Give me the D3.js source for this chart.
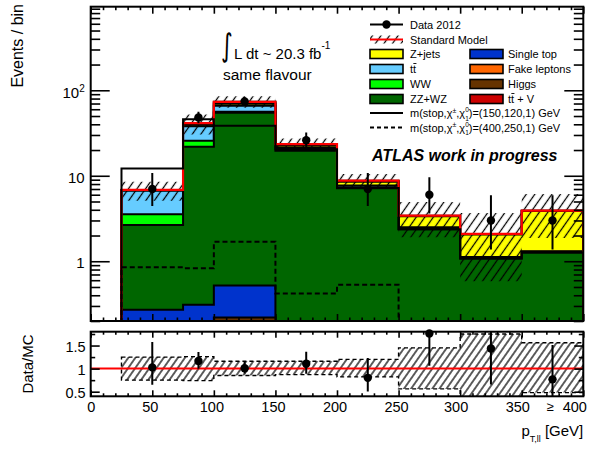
<!DOCTYPE html>
<html>
<head>
<meta charset="utf-8">
<script src="https://cdn.jsdelivr.net/npm/d3@7"></script>
<style>
  html, body { margin: 0; padding: 0; background: #fff; }
  svg text { font-family: "Liberation Sans", Arial, Helvetica, sans-serif; fill: #000; }
</style>
</head>
<body>
<svg id="chart" width="595" height="449"></svg>
<script>
// ---- binning (GeV) ----
const binEdges   = [25, 75, 100, 150, 200, 250, 300, 350, 400];
const binCenters = [50, 87.5, 125, 175, 225, 275, 325, 375];

// ---- background expectation per bin (events), bottom of stack first ----
const higgs     = [0.02, 0.03, 0.22, 0.08, 0.03, 0.01, 0.01, 0.01];
const singleTop = [0.25, 0.28, 0.30, 0.10, 0.05, 0.03, 0.02, 0.02];
const zzwz      = [2.39, 21.59, 53.98, 19.42, 7.06, 2.33, 1.05, 1.24];
const ww        = [0.89, 3.80, 1.60, 0.50, 0.20, 0.05, 0.02, 0.02];
const ttbar     = [3.14, 12.30, 9.90, 1.00, 0.35, 0.08, 0.02, 0.02];
const zjets     = [0.07, 1.60, 3.50, 1.40, 0.80, 0.85, 0.93, 2.56];
const fakes     = [0.03, 0.80, 1.80, 0.50, 0.14, 0.03, 0.02, 0.02];
const ttV       = [0.03, 0.80, 2.00, 0.50, 0.12, 0.03, 0.02, 0.02];

// ---- relative systematic band on the SM total ----
const bandUp   = [1.25, 1.26, 1.16, 1.16, 1.20, 1.45, 1.75, 1.56];
const bandDown = [0.75, 0.74, 0.85, 0.87, 0.82, 0.56, 0.28, 0.48];

// ---- signal benchmarks ----
const signalA = [12.2, 45.8, 38.5, 20.4, 7.2, 2.37, 1.08, 1.27];   // (150,120,1)
const signalB = [0.85, 0.83, 1.69, 0.42, 0.53, 0, 0, 0];            // (400,250,1)

// ---- observed data with 68% Poisson interval ----
const dataCounts = [7, 48, 74, 26, 7, 6, 3, 3];
const dataLow    = [4.42, 41.1, 65.4, 20.9, 4.42, 3.62, 1.37, 1.37];
const dataHigh   = [10.77, 56.0, 83.7, 32.1, 10.77, 9.58, 5.92, 5.92];

// ---- tick labels ----
const mainYTicks  = [1, 10, 100];
const ratioYTicks = [0.5, 1, 1.5];
const ratioXTicks = [0, 50, 100, 150, 200, 250, 300, 350, 400];

const layerKeys   = ["higgs", "singleTop", "zzwz", "ww", "ttbar", "zjets", "fakes", "ttV"];
const layerValues = { higgs, singleTop, zzwz, ww, ttbar, zjets, fakes, ttV };
const layerColors = { higgs: "#663300", singleTop: "#0033cc", zzwz: "#006600", ww: "#00ff00",
                      ttbar: "#66ccff", zjets: "#ffff00", fakes: "#ff6600", ttV: "#cc0000" };

// ---- geometry ----
const L = 90.7, R = 583.3;
const mainTop = 6.7, mainBot = 321;
const ratTop = 331.7, ratBot = 396.3;

const svg = d3.select("#chart");
const x  = d3.scaleLinear().domain([0, 400]).range([L, R]);
const y  = d3.scaleLog().domain([0.2, 950]).range([mainBot, mainTop]);
const yr = d3.scaleLinear().domain([0.4, 1.8]).range([ratBot, ratTop]);
const yv = v => y(Math.max(v, 0.2));

// ---- defs: clip regions and hatch fills ----
const defs = svg.append("defs");
defs.append("clipPath").attr("id", "clipMain")
  .append("rect").attr("x", L).attr("y", mainTop).attr("width", R - L).attr("height", mainBot - mainTop);
defs.append("clipPath").attr("id", "clipRatio")
  .append("rect").attr("x", L).attr("y", ratTop).attr("width", R - L).attr("height", ratBot - ratTop);
function hatch(id, spacing) {
  const p = defs.append("pattern").attr("id", id).attr("patternUnits", "userSpaceOnUse")
    .attr("width", spacing).attr("height", spacing).attr("patternTransform", "rotate(35)");
  p.append("line").attr("x1", spacing / 2).attr("x2", spacing / 2).attr("y1", 0).attr("y2", spacing)
    .attr("stroke", "#000").attr("stroke-width", 1.25);
}
hatch("hatchMain", 7);
hatch("hatchRatio", 5.8);

// per-bin step points (last value repeated at the right edge)
const stepRows = vals => binEdges.map((e, i) => ({ e, v: vals[Math.min(i, vals.length - 1)] }));

// ---- stacked backgrounds ----
const table = binCenters.map((c, i) => {
  const row = { c };
  layerKeys.forEach(k => row[k] = layerValues[k][i]);
  return row;
});
const series = d3.stack().keys(layerKeys)(table);
const totals = table.map((r, i) => series[series.length - 1][i][1]);

const gMain = svg.append("g").attr("clip-path", "url(#clipMain)");
const stackArea = d3.area().curve(d3.curveStepAfter)
  .x(d => x(d.e)).y0(mainBot + 2).y1(d => yv(d.v));

series.slice().reverse().forEach(s => {
  const tops = s.map(d => d[1]);
  gMain.append("path")
    .attr("d", stackArea(stepRows(tops)))
    .attr("fill", layerColors[s.key])
    .attr("stroke", "#000").attr("stroke-width", 2);
});

// systematic band on the total
const bandArea = d3.area().curve(d3.curveStepAfter)
  .x(d => x(d.e)).y0(d => yv(d.lo)).y1(d => yv(d.hi));
const bandRows = binEdges.map((e, i) => {
  const j = Math.min(i, totals.length - 1);
  return { e, lo: totals[j] * bandDown[j], hi: totals[j] * bandUp[j] };
});
gMain.append("path").attr("d", bandArea(bandRows)).attr("fill", "url(#hatchMain)");

// step outline helper
const stepLine = d3.line().curve(d3.curveStepAfter).x(d => x(d.e)).y(d => d.y);
function outline(vals, yf, base) {
  const rows = stepRows(vals).map(d => ({ e: d.e, y: yf(d.v) }));
  return stepLine([{ e: binEdges[0], y: base }, ...rows, { e: binEdges[binEdges.length - 1], y: base }]);
}

// SM total
gMain.append("path").attr("d", outline(totals, yv, mainBot + 2))
  .attr("fill", "none").attr("stroke", "#ff0000").attr("stroke-width", 2.2);

// signal benchmarks
gMain.append("path").attr("d", outline(signalA, yv, mainBot + 2))
  .attr("fill", "none").attr("stroke", "#000").attr("stroke-width", 2);
gMain.append("path").attr("d", outline(signalB, yv, mainBot + 2))
  .attr("fill", "none").attr("stroke", "#000").attr("stroke-width", 2).attr("stroke-dasharray", "5,3");

// data
const gData = svg.append("g").attr("clip-path", "url(#clipMain)");
binCenters.forEach((c, i) => {
  gData.append("line").attr("x1", x(c)).attr("x2", x(c))
    .attr("y1", yv(dataLow[i])).attr("y2", yv(dataHigh[i]))
    .attr("stroke", "#000").attr("stroke-width", 2);
  gData.append("circle").attr("cx", x(c)).attr("cy", yv(dataCounts[i])).attr("r", 4.2).attr("fill", "#000");
});

// ---- main frame and axes ----
svg.append("rect").attr("x", L).attr("y", mainTop).attr("width", R - L).attr("height", mainBot - mainTop)
  .attr("fill", "none").attr("stroke", "#000").attr("stroke-width", 2);

const minorLog = [];
[0.1, 1, 10, 100].forEach(d => { for (let k = 2; k <= 9; k++) { const v = d * k; if (v >= 0.2 && v <= 950) minorLog.push(v); } });
const xMajor = d3.range(0, 401, 50), xMinor = d3.range(0, 401, 10).filter(v => v % 50 !== 0);

function styleAxis(g) { g.select(".domain").remove(); g.selectAll("line").attr("stroke", "#000").attr("stroke-width", 1.6); }

svg.append("g").attr("transform", `translate(${L},0)`)
  .call(d3.axisLeft(y).tickValues(minorLog).tickSize(-9.5).tickFormat("")).call(styleAxis);
svg.append("g").attr("transform", `translate(${R},0)`)
  .call(d3.axisRight(y).tickValues(minorLog).tickSize(-9.5).tickFormat("")).call(styleAxis);
svg.append("g").attr("transform", `translate(${R},0)`)
  .call(d3.axisRight(y).tickValues(mainYTicks).tickSize(-19).tickFormat("")).call(styleAxis);
const yAx = svg.append("g").attr("transform", `translate(${L},0)`)
  .call(d3.axisLeft(y).tickValues(mainYTicks).tickSize(-19).tickPadding(6).tickFormat(v => v === 100 ? "10" : String(v)))
  .call(styleAxis);
yAx.selectAll("text").attr("font-size", 15).attr("dy", "0.45em")
  .style("font-family", '"Liberation Sans", Arial, sans-serif');
yAx.selectAll("text").filter(v => v === 100)
  .append("tspan").attr("font-size", 10).attr("dy", "-0.55em").text("2");

[[mainBot, d3.axisBottom], [mainTop, d3.axisTop]].forEach(([yy, ax]) => {
  svg.append("g").attr("transform", `translate(0,${yy})`)
    .call(ax(x).tickValues(xMajor).tickSize(-7).tickFormat("")).call(styleAxis);
  svg.append("g").attr("transform", `translate(0,${yy})`)
    .call(ax(x).tickValues(xMinor).tickSize(-3.5).tickFormat("")).call(styleAxis);
});

// ---- ratio panel ----
const gRatio = svg.append("g").attr("clip-path", "url(#clipRatio)");
const rBand = d3.area().curve(d3.curveStepAfter).x(d => x(d.e)).y0(d => yr(d.lo)).y1(d => yr(d.hi));
const rRows = binEdges.map((e, i) => { const j = Math.min(i, bandUp.length - 1); return { e, lo: bandDown[j], hi: bandUp[j] }; });
gRatio.append("path").attr("d", rBand(rRows)).attr("fill", "url(#hatchRatio)")
  .attr("stroke", "#000").attr("stroke-width", 1.4).attr("stroke-dasharray", "4,3");
gRatio.append("line").attr("x1", L).attr("x2", R).attr("y1", yr(1)).attr("y2", yr(1))
  .attr("stroke", "#ff0000").attr("stroke-width", 2);
binCenters.forEach((c, i) => {
  const t = totals[i];
  gRatio.append("line").attr("x1", x(c)).attr("x2", x(c))
    .attr("y1", yr(dataLow[i] / t)).attr("y2", yr(dataHigh[i] / t))
    .attr("stroke", "#000").attr("stroke-width", 2);
});
binCenters.forEach((c, i) => {
  svg.append("circle").attr("cx", x(c)).attr("cy", yr(dataCounts[i] / totals[i])).attr("r", 4.2).attr("fill", "#000");
});

svg.append("rect").attr("x", L).attr("y", ratTop).attr("width", R - L).attr("height", ratBot - ratTop)
  .attr("fill", "none").attr("stroke", "#000").attr("stroke-width", 2);

const rMinor = [0.75, 1.25, 1.75];
svg.append("g").attr("transform", `translate(${L},0)`)
  .call(d3.axisLeft(yr).tickValues(rMinor).tickSize(-4.5).tickFormat("")).call(styleAxis);
svg.append("g").attr("transform", `translate(${R},0)`)
  .call(d3.axisRight(yr).tickValues(rMinor).tickSize(-4.5).tickFormat("")).call(styleAxis);
svg.append("g").attr("transform", `translate(${R},0)`)
  .call(d3.axisRight(yr).tickValues(ratioYTicks).tickSize(-9).tickFormat("")).call(styleAxis);
const ryAx = svg.append("g").attr("transform", `translate(${L},0)`)
  .call(d3.axisLeft(yr).tickValues(ratioYTicks).tickSize(-9).tickPadding(5).tickFormat(v => String(v)))
  .call(styleAxis);
ryAx.selectAll("text").attr("font-size", 14.5).attr("dy", "0.4em")
  .style("font-family", '"Liberation Sans", Arial, sans-serif');

svg.append("g").attr("transform", `translate(0,${ratTop})`)
  .call(d3.axisTop(x).tickValues(xMajor).tickSize(-6).tickFormat("")).call(styleAxis);
svg.append("g").attr("transform", `translate(0,${ratTop})`)
  .call(d3.axisTop(x).tickValues(xMinor).tickSize(-3).tickFormat("")).call(styleAxis);
svg.append("g").attr("transform", `translate(0,${ratBot})`)
  .call(d3.axisBottom(x).tickValues(xMinor).tickSize(-3).tickFormat("")).call(styleAxis);
const rxAx = svg.append("g").attr("transform", `translate(0,${ratBot})`)
  .call(d3.axisBottom(x).tickValues(ratioXTicks).tickSize(-6).tickPadding(5).tickFormat(v => String(v)))
  .call(styleAxis);
rxAx.selectAll("text").attr("font-size", 14.5)
  .style("font-family", '"Liberation Sans", Arial, sans-serif')
  .attr("x", v => v === 0 ? 0 : (v === 400 ? -9 : (v >= 300 ? -4.5 : -2.5)));
svg.append("text").attr("x", 550).attr("y", 411).attr("text-anchor", "middle").attr("font-size", 13).text("≥");

// ---- axis titles ----
svg.append("text").attr("transform", "translate(23,4) rotate(-90)").attr("text-anchor", "end")
  .attr("font-size", 16).text("Events / bin");
svg.append("text").attr("transform", `translate(33,${(ratTop + ratBot) / 2}) rotate(-90)`).attr("text-anchor", "middle")
  .attr("font-size", 15).text("Data/MC");
const xt = svg.append("text").attr("x", R).attr("y", 436).attr("text-anchor", "end").attr("font-size", 15);
xt.append("tspan").text("p");
xt.append("tspan").attr("font-size", 9).attr("dy", 6).text("T,ll");
xt.append("tspan").attr("dy", -6).text(" [GeV]");

// ---- annotations ----
svg.append("text").attr("x", 221).attr("y", 56).attr("font-size", 30)
  .style("font-family", '"DejaVu Sans", sans-serif').attr("transform", "translate(221,56) scale(0.75,1.05) translate(-221,-56)")
  .text("∫");
const lum = svg.append("text").attr("x", 234).attr("y", 59).attr("font-size", 15);
lum.append("tspan").text("L dt ~ 20.3 fb");
lum.append("tspan").attr("font-size", 10).attr("dy", -10).text("-1");
svg.append("text").attr("x", 223).attr("y", 80).attr("font-size", 15.5).text("same flavour");
svg.append("text").attr("x", 372).attr("y", 161).attr("font-size", 16)
  .attr("font-weight", "bold").attr("font-style", "italic").text("ATLAS work in progress");

// ---- legend ----
const lg = svg.append("g");
const lx = 370, lw = 33, ltx = 410, rx = 470, rtx = 508;
function legText(xx, cy, txt) {
  return lg.append("text").attr("x", xx).attr("y", cy + 4).attr("font-size", 11).text(txt);
}
function ttbarBar(textSel) {
  const node = textSel.node();
  const sx = node.getStartPositionOfChar(1).x, ex = node.getEndPositionOfChar(1).x;
  const by = +textSel.attr("y") - 9.5;
  lg.append("line").attr("x1", sx + 0.3).attr("x2", ex + 0.3).attr("y1", by).attr("y2", by)
    .attr("stroke", "#000").attr("stroke-width", 0.9);
}
// data entry
lg.append("line").attr("x1", lx).attr("x2", lx + lw).attr("y1", 24.5).attr("y2", 24.5).attr("stroke", "#000").attr("stroke-width", 2);
lg.append("circle").attr("cx", lx + lw / 2).attr("cy", 24.5).attr("r", 4.2).attr("fill", "#000");
legText(ltx, 24.5, "Data 2012");
// SM entry
lg.append("rect").attr("x", lx).attr("y", 35.5).attr("width", lw).attr("height", 8).attr("fill", "url(#hatchMain)");
lg.append("line").attr("x1", lx).attr("x2", lx + lw).attr("y1", 39.5).attr("y2", 39.5).attr("stroke", "#ff0000").attr("stroke-width", 2);
legText(ltx, 39.5, "Standard Model");

const leftEntries  = [["zjets", "Z+jets", 54], ["ttbar", "tt", 69], ["ww", "WW", 84], ["zzwz", "ZZ+WZ", 99]];
const rightEntries = [["singleTop", "Single top", 54], ["fakes", "Fake leptons", 69], ["higgs", "Higgs", 84], ["ttV", "tt + V", 99]];
function box(xx, cy, key) {
  lg.append("rect").attr("x", xx).attr("y", cy - 4.5).attr("width", lw).attr("height", 9)
    .attr("fill", layerColors[key]).attr("stroke", "#000").attr("stroke-width", 1.6);
}
leftEntries.forEach(([k, t, cy]) => { box(lx, cy, k); const s = legText(ltx, cy, t); if (k === "ttbar") ttbarBar(s); });
rightEntries.forEach(([k, t, cy]) => { box(rx, cy, k); const s = legText(rtx, cy, t); if (k === "ttV") ttbarBar(s); });

// neutralino label: superscript 0 stacked over subscript 1
function sigLabel(cy, masses) {
  const t = lg.append("text").attr("x", ltx).attr("y", cy + 4).attr("font-size", 11);
  t.append("tspan").text("m(stop,χ");
  t.append("tspan").attr("font-size", 7).attr("dy", -4.5).text("±");
  t.append("tspan").attr("dy", 4.5).text(",χ");
  t.append("tspan").attr("font-size", 6.5).attr("dy", -5).text("0");
  t.append("tspan").attr("font-size", 6.5).attr("dx", -3.6).attr("dy", 8.5).text("1");
  t.append("tspan").attr("dy", -3.5).text(")=" + masses + " GeV");
}
lg.append("line").attr("x1", lx).attr("x2", lx + lw).attr("y1", 113).attr("y2", 113).attr("stroke", "#000").attr("stroke-width", 1.8);
sigLabel(113, "(150,120,1)");
lg.append("line").attr("x1", lx).attr("x2", lx + lw).attr("y1", 127.5).attr("y2", 127.5).attr("stroke", "#000")
  .attr("stroke-width", 1.8).attr("stroke-dasharray", "4,3");
sigLabel(127.5, "(400,250,1)");
</script>
</body>
</html>
